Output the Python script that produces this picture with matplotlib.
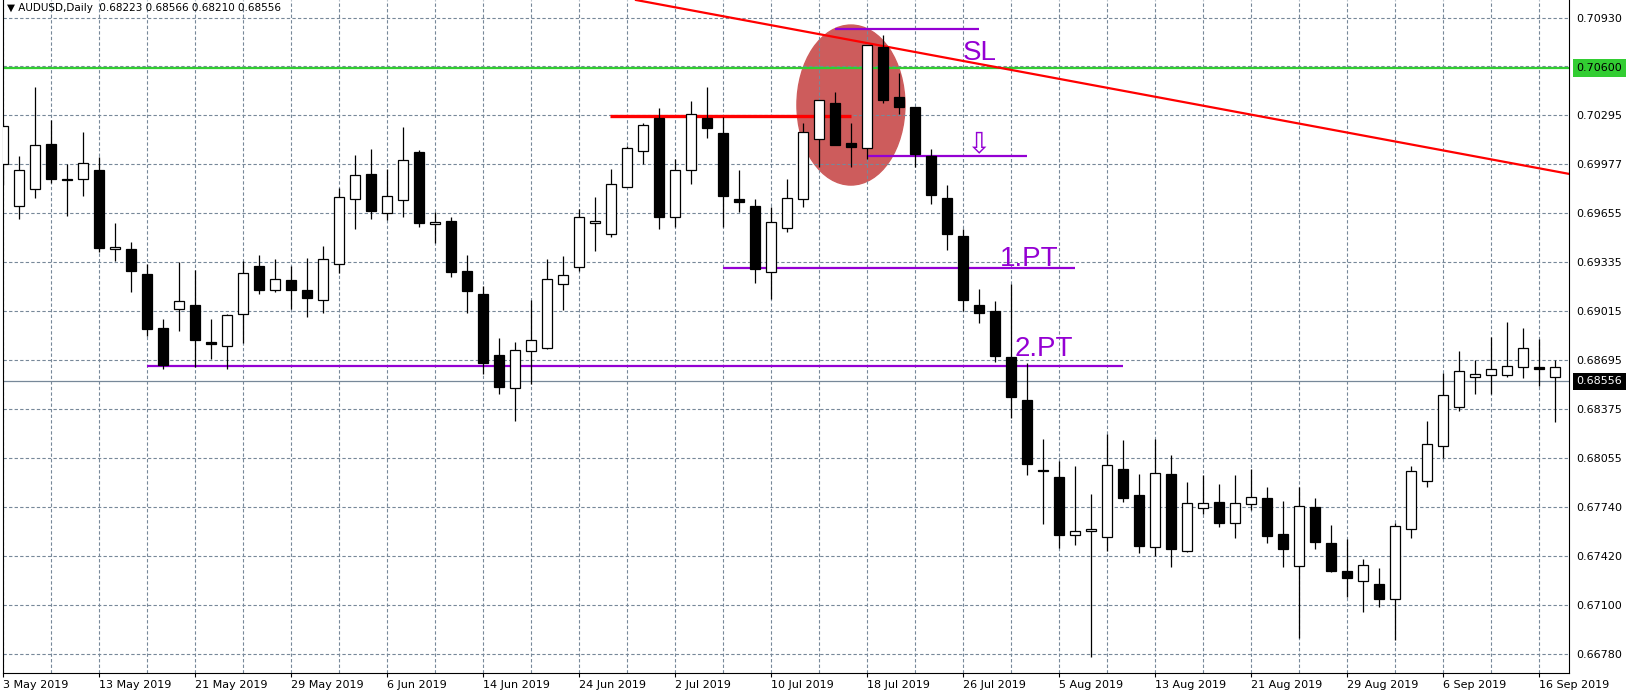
import numpy as np
import matplotlib.pyplot as plt
from matplotlib.patches import Ellipse
import matplotlib.transforms as mtransforms

# daily AUDUSD candles, 3 May 2019 .. 17 Sep 2019
opens = [0.69973, 0.69703, 0.69810, 0.70106, 0.69880, 0.69875, 0.69936, 0.69418, 0.69418, 0.69257,
         0.68905, 0.69031, 0.69055, 0.68814, 0.68790, 0.68994, 0.69310, 0.69151, 0.69218, 0.69153,
         0.69086, 0.69320, 0.69745, 0.69910, 0.69653, 0.69740, 0.70054, 0.69582, 0.69601, 0.69275,
         0.69127, 0.68727, 0.68511, 0.68753, 0.68772, 0.69190, 0.69301, 0.69588, 0.69516, 0.69827,
         0.70058, 0.70278, 0.69632, 0.69934, 0.70278, 0.70178, 0.69747, 0.69701, 0.69268, 0.69555,
         0.69745, 0.70136, 0.70373, 0.70110, 0.70082, 0.70739, 0.70410, 0.70345, 0.70025, 0.69751,
         0.69503, 0.69053, 0.69014, 0.68714, 0.68435, 0.67978, 0.67933, 0.67552, 0.67578, 0.67539,
         0.67983, 0.67815, 0.67474, 0.67952, 0.67448, 0.67728, 0.67767, 0.67630, 0.67754, 0.67793,
         0.67558, 0.67350, 0.67739, 0.67500, 0.67317, 0.67252, 0.67232, 0.67134, 0.67591, 0.67904,
         0.68133, 0.68392, 0.68587, 0.68601, 0.68601, 0.68648, 0.68648, 0.68583]
highs = [0.70243, 0.70027, 0.70478, 0.70262, 0.69973, 0.70184, 0.70019, 0.69588, 0.69464, 0.69320,
         0.68964, 0.69334, 0.69284, 0.68964, 0.68996, 0.69344, 0.69381, 0.69355, 0.69310, 0.69362,
         0.69440, 0.69816, 0.70034, 0.70071, 0.69943, 0.70215, 0.70067, 0.69660, 0.69627, 0.69379,
         0.69179, 0.68840, 0.68812, 0.69088, 0.69353, 0.69375, 0.69682, 0.69759, 0.69943, 0.70092,
         0.70240, 0.70341, 0.70006, 0.70386, 0.70478, 0.70284, 0.69936, 0.69747, 0.69692, 0.69877,
         0.70245, 0.70395, 0.70445, 0.70241, 0.70752, 0.70817, 0.70571, 0.70350, 0.70073, 0.69838,
         0.69551, 0.69157, 0.69081, 0.69192, 0.68674, 0.68178, 0.68039, 0.68004, 0.67822, 0.68213,
         0.68174, 0.67952, 0.68181, 0.68076, 0.67900, 0.67946, 0.67887, 0.67946, 0.67985, 0.67865,
         0.67774, 0.67869, 0.67793, 0.67619, 0.67526, 0.67395, 0.67337, 0.67630, 0.68004, 0.68296,
         0.68609, 0.68755, 0.68696, 0.68844, 0.68944, 0.68903, 0.68833, 0.68696]
lows = [0.69838, 0.69619, 0.69756, 0.69853, 0.69638, 0.69769, 0.69403, 0.69344, 0.69142, 0.68855,
        0.68640, 0.68887, 0.68653, 0.68700, 0.68640, 0.68805, 0.69125, 0.69142, 0.69027, 0.68979,
        0.69001, 0.69266, 0.69549, 0.69618, 0.69610, 0.69632, 0.69566, 0.69457, 0.69240, 0.69005,
        0.68605, 0.68474, 0.68300, 0.68542, 0.68766, 0.69023, 0.69279, 0.69410, 0.69501, 0.69825,
        0.69975, 0.69551, 0.69566, 0.69847, 0.70145, 0.69566, 0.69664, 0.69201, 0.69096, 0.69532,
        0.69692, 0.69958, 0.70097, 0.69958, 0.70010, 0.70371, 0.70302, 0.69958, 0.69716, 0.69414,
        0.69018, 0.68940, 0.68681, 0.68316, 0.67944, 0.67624, 0.67471, 0.67491, 0.66760, 0.67452,
        0.67772, 0.67439, 0.67419, 0.67348, 0.67441, 0.67691, 0.67608, 0.67537, 0.67719, 0.67500,
        0.67347, 0.66880, 0.67461, 0.67315, 0.67152, 0.67049, 0.67086, 0.66869, 0.67532, 0.67870,
        0.68054, 0.68366, 0.68474, 0.68472, 0.68583, 0.68581, 0.68527, 0.68294]
closes = [0.70223, 0.69936, 0.70097, 0.69880, 0.69868, 0.69980, 0.69429, 0.69431, 0.69279, 0.68901,
          0.68663, 0.69080, 0.68827, 0.68798, 0.68988, 0.69262, 0.69155, 0.69223, 0.69155, 0.69103,
          0.69353, 0.69758, 0.69901, 0.69671, 0.69764, 0.70000, 0.69592, 0.69599, 0.69273, 0.69149,
          0.68679, 0.68518, 0.68759, 0.68827, 0.69223, 0.69249, 0.69627, 0.69601, 0.69843, 0.70077,
          0.70228, 0.69632, 0.69936, 0.70299, 0.70212, 0.69769, 0.69730, 0.69288, 0.69595, 0.69751,
          0.70186, 0.70391, 0.70101, 0.70088, 0.70750, 0.70393, 0.70349, 0.70043, 0.69775, 0.69521,
          0.69090, 0.69005, 0.68724, 0.68457, 0.68015, 0.67970, 0.67556, 0.67578, 0.67591, 0.68009,
          0.67798, 0.67485, 0.67957, 0.67465, 0.67761, 0.67761, 0.67630, 0.67761, 0.67800, 0.67550,
          0.67465, 0.67745, 0.67511, 0.67321, 0.67271, 0.67356, 0.67134, 0.67611, 0.67970, 0.68146,
          0.68466, 0.68624, 0.68603, 0.68637, 0.68655, 0.68772, 0.68635, 0.68648]

date_labels = ["3 May 2019", "13 May 2019", "21 May 2019", "29 May 2019", "6 Jun 2019",
               "14 Jun 2019", "24 Jun 2019", "2 Jul 2019", "10 Jul 2019", "18 Jul 2019",
               "26 Jul 2019", "5 Aug 2019", "13 Aug 2019", "21 Aug 2019", "29 Aug 2019",
               "6 Sep 2019", "16 Sep 2019"]
price_ticks = [0.70930, 0.70613, 0.70295, 0.69977, 0.69655, 0.69335, 0.69015,
               0.68695, 0.68375, 0.68055, 0.67740, 0.67420, 0.67100, 0.66780]

# drawn objects
trend_pts = [(40.6, 0.71025), (97.9, 0.69910)]
resistance = (0.70290, 37.9, 53.0)
green_level = 0.70600
bid = 0.68556
levels = {"SL": (0.70858, 52, 61), "entry": (0.70029, 54, 64),
          "1.PT": (0.69298, 45, 67), "2.PT": (0.68659, 9, 70)}
circle = (52.98, 0.70360, 6.75, 0.010442)

W, H = 1633, 697
fig = plt.figure(figsize=(W / 100, H / 100), dpi=100)
ax = fig.add_axes([2.7 / W, 24 / H, (1569 - 2.7) / W, 673 / H])
ax.set_xlim(-0.0375, 97.86)
ax.set_ylim(0.666535, 0.710455)

o = np.array(opens); h = np.array(highs); l = np.array(lows); c = np.array(closes)
x = np.arange(len(o))
cols = ['white' if cc >= oo else 'black' for oo, cc in zip(o, c)]

grid_col = '#778899'
ax.set_xticks(x[::6])
ax.set_xticklabels(date_labels, ha='left', fontsize=8)
ax.set_xticks(x[::3], minor=True)
ax.set_yticks(price_ticks)
ax.set_yticklabels(['' if abs(p - 0.70613) < 1e-6 else f'{p:.5f}' for p in price_ticks], fontsize=8)
ax.yaxis.tick_right()
ax.tick_params(axis='y', length=0, pad=5.5)
ax.tick_params(axis='x', which='major', length=3, pad=2, direction='out')
ax.tick_params(axis='x', which='minor', length=0)
ax.grid(True, which='both', axis='x', color=grid_col, lw=0.8, linestyle=(0, (3, 2)))
ax.grid(True, which='major', axis='y', color=grid_col, lw=0.8, linestyle=(0, (3, 2)))
ax.spines['top'].set_visible(False)

ax.add_patch(Ellipse(circle[:2], circle[2], circle[3], color='#CD5C5C', zorder=1))

ax.axhline(green_level, color='#32CD32', lw=1.6, zorder=2)
ax.axhline(bid, color=grid_col, lw=0.9, zorder=2)
ax.axline(trend_pts[0], trend_pts[1], color='red', lw=1.6, zorder=2)
ax.hlines(resistance[0], resistance[1], resistance[2], color='red', lw=2.4, zorder=2)

violet = '#9400D3'
for name, (lv, x0, x1) in levels.items():
    ax.hlines(lv, x0, x1, color=violet, lw=1.6, zorder=2)

ax.vlines(x, l, h, color='black', lw=0.9, zorder=3)
ax.bar(x, np.maximum(np.abs(c - o), 0.00003), bottom=np.minimum(o, c), width=0.62,
       color=cols, edgecolor='black', linewidth=0.9, zorder=4)

tfont = dict(family=['Liberation Sans', 'DejaVu Sans'], fontsize=20, color=violet, va='baseline')
ax.text(60.0, 0.70654, "SL", **tfont)
ax.text(62.3, 0.69310, "1.PT", **tfont)
ax.text(63.2, 0.68725, "2.PT", **tfont)
ax.text(60.95, 0.70010, "\u21e9", fontsize=21, color=violet, ha='center', va='bottom',
        family='DejaVu Sans')

trans = mtransforms.blended_transform_factory(ax.transAxes, ax.transData)
ax.annotate(f'{green_level:.5f}', xy=(1, green_level), xycoords=trans, xytext=(5.5, 0),
            textcoords='offset points', va='center', fontsize=8, color='black',
            bbox=dict(boxstyle='square,pad=0.35', fc='#32CD32', ec='none'), annotation_clip=False)
ax.annotate(f'{bid:.5f}', xy=(1, bid), xycoords=trans, xytext=(5.5, 0),
            textcoords='offset points', va='center', fontsize=8, color='white',
            bbox=dict(boxstyle='square,pad=0.35', fc='black', ec='none'), annotation_clip=False)

fig.text(7 / W, 1 - 8 / H, "\u25bc AUDUSD,Daily  0.68223 0.68566 0.68210 0.68556",
         fontsize=7.5, va='center', ha='left')

fig.savefig('out.png', dpi=100)
